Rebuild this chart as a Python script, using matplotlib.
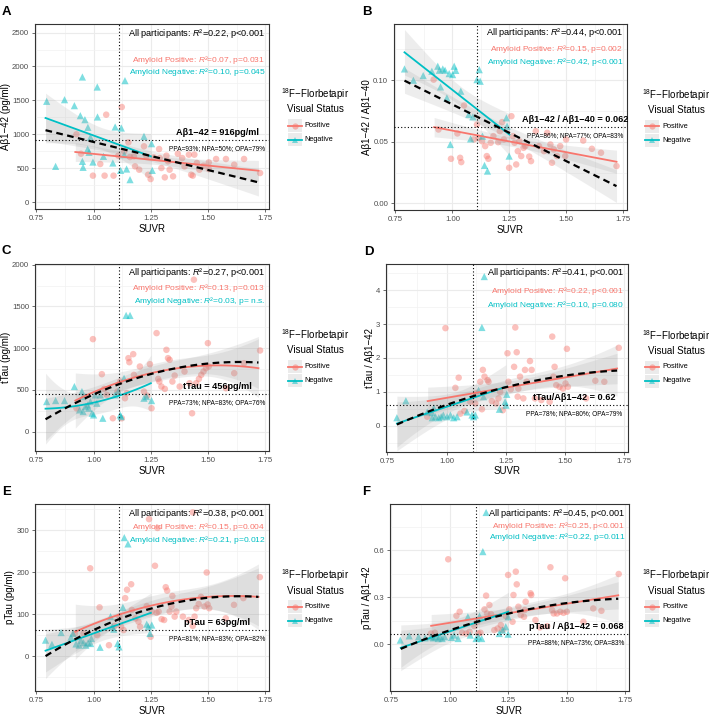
import numpy as np
import matplotlib
matplotlib.use("Agg")
import matplotlib.pyplot as plt
from matplotlib.patches import Rectangle
from matplotlib.lines import Line2D
import matplotlib.transforms as mtransforms

plt.rcParams['font.family'] = ['Liberation Sans', 'DejaVu Sans']
plt.rcParams['mathtext.fontset'] = 'custom'
plt.rcParams['mathtext.rm'] = 'Liberation Sans'
plt.rcParams['mathtext.it'] = 'Liberation Sans:italic'
plt.rcParams['mathtext.bf'] = 'Liberation Sans:bold'

RED = '#F8766D'
CYAN = '#00BFC4'

# ---------------- data (SUVR, value) ----------------
A_neg = [(0.795,1486),(0.834,526),(0.873,1510),(0.916,1422),(0.942,1274),(0.951,1845),(0.962,1215),(0.975,1102),
         (0.951,600),(0.954,512),(0.974,782),(0.980,733),(0.997,590),(0.986,955),(1.017,1255),(1.016,1697),
         (1.043,674),(1.084,576),(1.094,1107),(1.121,1092),(1.118,467),(1.137,1791),(1.134,699),(1.144,487),
         (1.159,330),(1.220,969),(1.253,861),(1.256,467)]
A_pos = [(0.925,999),(0.945,713),(0.997,389),(1.029,561),(1.055,1289),(1.048,389),(1.087,389),(1.123,1402),
         (1.108,684),(1.133,748),(1.152,881),(1.159,664),(1.176,674),(1.181,526),(1.199,477),(1.220,822),
         (1.231,674),(1.238,403),(1.249,339),(1.263,659),(1.286,782),(1.289,649),(1.296,502),(1.311,364),
         (1.318,684),(1.325,600),(1.332,477),(1.347,379),(1.368,713),(1.387,649),(1.397,526),(1.416,699),
         (1.426,403),(1.433,389),(1.440,699),(1.451,576),(1.462,477),(1.480,536),(1.503,585),(1.503,487),
         (1.535,635),(1.578,635),(1.614,551),(1.657,635),(1.727,428)]

B_neg = [(0.790,0.1092),(0.829,0.1000),(0.872,0.1038),(0.910,0.1073),(0.936,0.1114),(0.943,0.1081),(0.948,0.0946),
         (0.958,0.1092),(0.968,0.1081),(0.976,0.0857),(0.986,0.1054),(1.001,0.1046),(1.008,0.1114),(1.015,0.1080),
         (1.037,0.0911),(1.072,0.0722),(1.080,0.0524),(1.090,0.0703),(0.991,0.0478),(1.108,0.1005),(1.118,0.1086),
         (1.122,0.0992),(1.132,0.0546),(1.141,0.0308),(1.154,0.0262),(1.237,0.0695),(1.240,0.0627),(1.249,0.0384)]
B_pos = [(0.918,0.1005),(0.939,0.0600),(0.994,0.0362),(1.022,0.0568),(1.034,0.0370),(1.039,0.0335),(1.051,0.0795),
         (1.094,0.0519),(1.108,0.0640),(1.115,0.0532),(1.130,0.0505),(1.144,0.0465),(1.151,0.0384),(1.158,0.0362),
         (1.168,0.0492),(1.180,0.0546),(1.201,0.0497),(1.208,0.0586),(1.218,0.0660),(1.226,0.0519),(1.249,0.0289),
         (1.259,0.0708),(1.266,0.0546),(1.273,0.0492),(1.280,0.0316),(1.287,0.0424),(1.294,0.0505),(1.302,0.0384),
         (1.312,0.0451),(1.320,0.0465),(1.337,0.0380),(1.345,0.0343),(1.366,0.0586),(1.380,0.0465),(1.402,0.0424),
         (1.416,0.0573),(1.430,0.0478),(1.437,0.0330),(1.445,0.0438),(1.459,0.0384),(1.473,0.0465),(1.495,0.0384),
         (1.499,0.0519),(1.574,0.0510),(1.612,0.0443),(1.652,0.0411),(1.720,0.0303)]

C_neg = [(0.795,360),(0.834,372),(0.873,372),(0.916,540),(0.939,260),(0.949,480),(0.954,240),(0.964,300),
         (0.974,320),(0.978,280),(0.986,360),(0.993,220),(1.000,200),(1.014,340),(1.029,440),(1.040,160),
         (1.094,440),(1.108,488),(1.116,200),(1.120,180),(1.133,640),(1.142,1392),(1.159,1392),(1.220,400),
         (1.231,420),(1.253,372),(0.954,420),(1.007,440)]
C_pos = [(0.925,280),(0.997,1108),(1.036,688),(1.046,512),(1.058,440),(1.084,160),(1.104,480),(1.116,600),
         (1.123,160),(1.137,400),(1.145,460),(1.152,880),(1.156,832),(1.173,928),(1.176,680),(1.202,780),
         (1.220,480),(1.234,432),(1.246,808),(1.253,280),(1.275,1180),(1.282,632),(1.287,600),(1.296,540),
         (1.311,512),(1.318,980),(1.325,880),(1.332,860),(1.344,600),(1.354,672),(1.376,540),(1.397,720),
         (1.419,580),(1.438,1820),(1.430,220),(1.448,580),(1.460,632),(1.470,680),(1.480,720),(1.491,760),
         (1.499,1060),(1.503,780),(1.578,520),(1.614,700),(1.657,820),(1.727,972)]

D_neg = [(0.790,0.24),(0.828,0.74),(0.918,0.41),(0.939,0.24),(0.946,0.53),(0.953,0.27),(0.967,0.24),(0.977,0.27),
         (0.986,0.32),(1.002,0.27),(1.016,0.32),(1.030,0.24),(1.044,0.27),(1.086,0.41),(1.107,0.32),(1.114,0.27),
         (1.121,0.32),(1.135,1.05),(1.149,2.90),(1.159,4.40),(1.223,0.49),(1.247,0.71),(1.251,0.61),(1.254,0.93),
         (1.156,0.86),(0.939,0.39)]
D_pos = [(0.918,0.27),(0.995,2.88),(1.037,1.12),(1.051,1.42),(1.058,0.36),(1.075,0.44),(1.100,0.71),(1.121,0.66),
         (1.125,0.96),(1.142,1.30),(1.149,0.49),(1.153,1.65),(1.160,1.45),(1.173,1.35),(1.177,1.30),(1.191,0.73),
         (1.209,0.66),(1.219,0.81),(1.226,1.00),(1.237,0.46),(1.257,2.14),(1.261,1.30),(1.271,1.08),(1.285,1.74),
         (1.290,2.90),(1.296,2.17),(1.300,0.86),(1.303,1.10),(1.310,1.45),(1.324,0.81),(1.331,1.65),(1.338,1.30),
         (1.352,1.91),(1.359,1.65),(1.373,0.81),(1.400,0.76),(1.435,0.71),(1.446,2.63),(1.451,1.45),(1.456,1.74),
         (1.463,1.20),(1.477,1.15),(1.491,1.10),(1.502,1.25),(1.508,2.27),(1.512,1.15),(1.589,0.81),(1.628,1.33),
         (1.666,1.30),(1.727,2.30)]

E_neg = [(0.790,38),(0.818,28),(0.858,56),(0.901,45),(0.923,29),(0.937,26),(0.944,38),(0.956,32),(0.966,26),
         (0.976,32),(0.987,30),(0.990,42),(1.028,21),(1.074,94),(1.081,70),(1.088,64),(1.105,30),(1.111,22),
         (1.128,116),(1.134,282),(1.150,267),(1.232,76),(1.239,70),(1.246,54),(1.254,74),(0.910,54)]
E_pos = [(0.918,54),(0.956,54),(0.985,209),(1.016,50),(1.026,116),(1.067,26),(1.092,72),(1.113,94),(1.120,70),
         (1.131,62),(1.138,138),(1.146,158),(1.164,171),(1.167,110),(1.182,90),(1.196,82),(1.203,70),(1.232,119),
         (1.242,326),(1.249,46),(1.254,106),(1.268,215),(1.275,103),(1.279,305),(1.284,106),(1.297,88),(1.308,86),
         (1.315,164),(1.321,156),(1.332,106),(1.340,118),(1.344,143),(1.354,94),(1.361,106),(1.390,94),(1.416,86),
         (1.433,342),(1.433,72),(1.441,94),(1.448,114),(1.459,124),(1.469,141),(1.484,118),(1.494,199),(1.498,123),
         (1.505,114),(1.577,90),(1.613,122),(1.654,138),(1.726,188)]

F_neg = [(0.788,0.026),(0.826,0.053),(0.866,0.047),(0.894,0.040),(0.919,0.047),(0.929,0.040),(0.939,0.047),
         (0.950,0.036),(0.957,0.047),(0.967,0.036),(0.978,0.047),(1.007,0.043),(1.018,0.058),(1.035,0.036),
         (1.077,0.175),(1.087,0.058),(1.112,0.036),(1.122,0.047),(1.127,0.179),(1.136,0.036),(1.141,0.591),
         (1.155,0.841),(1.211,0.068),(1.225,0.090),(1.239,0.111),(1.249,0.175),(1.249,0.064)]
F_pos = [(0.919,0.068),(0.936,0.073),(0.993,0.542),(1.028,0.181),(1.042,0.207),(1.052,0.073),(1.070,0.068),
         (1.084,0.079),(1.105,0.115),(1.117,0.143),(1.122,0.068),(1.131,0.073),(1.148,0.222),(1.155,0.310),
         (1.159,0.196),(1.169,0.250),(1.176,0.192),(1.190,0.090),(1.204,0.100),(1.218,0.122),(1.225,0.090),
         (1.239,0.179),(1.249,0.442),(1.254,0.222),(1.268,0.143),(1.272,0.314),(1.282,0.463),(1.286,0.382),
         (1.293,0.239),(1.303,0.186),(1.317,0.175),(1.320,0.218),(1.324,0.271),(1.345,0.325),(1.348,0.314),
         (1.366,0.154),(1.385,0.107),(1.416,0.115),(1.430,0.491),(1.437,0.218),(1.444,0.196),(1.458,0.196),
         (1.472,0.207),(1.486,0.200),(1.493,0.421),(1.500,0.207),(1.571,0.143),(1.613,0.228),(1.648,0.213),
         (1.722,0.448)]

# fitted lines: (SUVR, value) points; 2 points = linear, 3 points = quadratic
A_fit_all = [(0.79, 1060), (1.72, 290)]
A_fit_pos = [(0.92, 738), (1.72, 462)]
A_fit_neg = [(0.79, 1240), (1.25, 674)]
B_fit_all = [(0.79, 0.0997), (1.72, 0.0140)]
B_fit_pos = [(0.92, 0.0619), (1.72, 0.0338)]
B_fit_neg = [(0.79, 0.1227), (1.25, 0.0559)]
C_fit_all = [(0.79, 148), (1.25, 690), (1.72, 828)]
C_fit_pos = [(0.92, 372), (1.25, 700), (1.72, 760)]
C_fit_neg = [(0.79, 275), (1.02, 360), (1.25, 580)]
D_fit_all = [(0.79, 0.04), (1.25, 1.14), (1.72, 1.63)]
D_fit_pos = [(0.92, 0.73), (1.72, 1.69)]
D_fit_neg = [(0.79, 0.07), (1.25, 1.15)]
E_fit_all = [(0.79, 0), (1.25, 113), (1.72, 141)]
E_fit_pos = [(0.92, 58), (1.25, 120), (1.72, 141)]
E_fit_neg = [(0.79, 13), (1.25, 103)]
F_fit_all = [(0.79, -0.03), (1.25, 0.195), (1.72, 0.29)]
F_fit_pos = [(0.92, 0.117), (1.72, 0.312)]
F_fit_neg = [(0.79, -0.023), (1.25, 0.207)]

SUVR_CUT = 1.11
CUTOFFS = [916, 0.062, 456, 0.62, 63, 0.068]
CUT_TEXT = ["Aβ1−42 = 916pg/ml", "Aβ1−42 / Aβ1−40 = 0.062", "tTau = 456pg/ml",
            "tTau/Aβ1−42 = 0.62", "pTau = 63pg/ml", "pTau / Aβ1−42 = 0.068"]
AGREE_TEXT = ["PPA=93%; NPA=50%; OPA=79%", "PPA=86%; NPA=77%; OPA=83%", "PPA=73%; NPA=83%; OPA=76%",
              "PPA=78%; NPA=80%; OPA=79%", "PPA=81%; NPA=83%; OPA=82%", "PPA=88%; NPA=73%; OPA=83%"]
R2_ALL = ["0.22", "0.44", "0.27", "0.41", "0.38", "0.45"]
P_ALL = ["p<0.001"] * 6
R2_POS = ["0.07", "0.15", "0.13", "0.22", "0.15", "0.25"]
P_POS = ["p=0.031", "p=0.002", "p=0.013", "p<0.001", "p=0.004", "p<0.001"]
R2_NEG = ["0.10", "0.42", "0.03", "0.10", "0.21", "0.22"]
P_NEG = ["p=0.045", "p<0.001", "p= n.s.", "p=0.080", "p=0.012", "p=0.011"]
YLABELS = ["Aβ1−42 (pg/ml)", "Aβ1−42 / Aβ1−40", "tTau (pg/ml)", "tTau / Aβ1−42", "pTau (pg/ml)", "pTau / Aβ1−42"]
YTICKS = [[0, 500, 1000, 1500, 2000, 2500], [0.0, 0.05, 0.10], [0, 500, 1000, 1500, 2000],
          [0, 1, 2, 3, 4], [0, 100, 200, 300], [0.0, 0.3, 0.6]]
YTICKLABELS = [["0", "500", "1000", "1500", "2000", "2500"], ["0.00", "0.05", "0.10"],
               ["0", "500", "1000", "1500", "2000"], ["0", "1", "2", "3", "4"],
               ["0", "100", "200", "300"], ["0.0", "0.3", "0.6"]]
XTICKS = [0.75, 1.00, 1.25, 1.50, 1.75]
XTICKLABELS = ["0.75", "1.00", "1.25", "1.50", "1.75"]

# ---------------- layout ----------------
W, H = 709, 715
fig = plt.figure(figsize=(W / 100, H / 100), dpi=100)

YLIMS = [(-103, 2627), (-0.0054, 0.1457), (-232, 2008), (-0.77, 4.77), (-83, 362), (-0.299, 0.895)]
AX_PX = [(35, 24, 269, 209), (394, 24, 627, 210), (35, 264, 269, 451),
         (386, 264, 628, 452), (35, 504, 269, 691), (390, 504, 629, 691)]
STAT_Y = [(0.951, 0.805, 0.742), (0.952, 0.866, 0.797), (0.953, 0.873, 0.804),
          (0.953, 0.856, 0.782), (0.950, 0.875, 0.810), (0.950, 0.883, 0.821)]
LETTERS = ["A", "B", "C", "D", "E", "F"]
LETTER_PX = [(2, 15), (362, 15), (2, 254), (364, 255), (2, 495), (362, 495)]

PANEL_DATA = [(A_pos, A_neg, A_fit_pos, A_fit_neg, A_fit_all),
              (B_pos, B_neg, B_fit_pos, B_fit_neg, B_fit_all),
              (C_pos, C_neg, C_fit_pos, C_fit_neg, C_fit_all),
              (D_pos, D_neg, D_fit_pos, D_fit_neg, D_fit_all),
              (E_pos, E_neg, E_fit_pos, E_fit_neg, E_fit_all),
              (F_pos, F_neg, F_fit_pos, F_fit_neg, F_fit_all)]


def fit_band(fit_pts, xd, yd, n_eval=100):
    fx, fy = np.asarray(fit_pts, float).T
    deg = len(fx) - 1
    coef = np.polyfit(fx, fy, deg)
    xs = np.linspace(fx[0], fx[-1], n_eval)
    ys = np.polyval(coef, xs)
    X = np.vander(xd, deg + 1)
    resid = yd - np.polyval(coef, xd)
    s = np.sqrt(np.sum(resid ** 2) / (len(xd) - deg - 1))
    XtXi = np.linalg.inv(X.T @ X)
    Xs = np.vander(xs, deg + 1)
    se = s * np.sqrt(np.einsum('ij,jk,ik->i', Xs, XtXi, Xs))
    return xs, ys, 1.99 * se


for i in range(6):
    l, t, r, b = AX_PX[i]
    ax = fig.add_axes([l / W, 1 - b / H, (r - l) / W, (b - t) / H])
    pos, neg, fpos, fneg, fall = PANEL_DATA[i]
    pos = np.asarray(pos, float)
    neg = np.asarray(neg, float)
    alld = np.vstack([pos, neg])

    ax.set_xlim(0.744, 1.766)
    ax.set_ylim(*YLIMS[i])
    ax.set_xticks(XTICKS)
    ax.set_xticklabels(XTICKLABELS)
    yt = YTICKS[i]
    ax.set_yticks(yt)
    ax.set_yticklabels(YTICKLABELS[i])
    step = yt[1] - yt[0]
    ymin_minor = [yt[0] - step / 2] + [v + step / 2 for v in yt]
    ax.set_yticks([v for v in ymin_minor if YLIMS[i][0] < v < YLIMS[i][1]], minor=True)
    ax.set_xticks([0.875, 1.125, 1.375, 1.625], minor=True)
    ax.grid(which='major', color='#EBEBEB', lw=0.8, zorder=0)
    ax.grid(which='minor', color='#F2F2F2', lw=0.5, zorder=0)
    ax.set_axisbelow(True)
    ax.tick_params(which='major', length=2.2, width=0.5, color='#333333', labelsize=5.6,
                   labelcolor='#4D4D4D', pad=2)
    ax.tick_params(which='minor', length=0)
    for sp in ax.spines.values():
        sp.set_color('#333333')
        sp.set_linewidth(0.8)

    ax.scatter(pos[:, 0], pos[:, 1], s=22, c=RED, alpha=0.45, edgecolors='none', marker='o', zorder=2)
    ax.scatter(neg[:, 0], neg[:, 1], s=27, c=CYAN, alpha=0.5, edgecolors='none', marker='^', zorder=2)

    curves = []
    for fpts, d, col in [(fpos, pos, RED), (fneg, neg, CYAN), (fall, alld, 'black')]:
        xs, ys, hw = fit_band(fpts, d[:, 0], d[:, 1])
        ax.fill_between(xs, ys - hw, ys + hw, color='#999999', alpha=0.17, lw=0, zorder=3)
        curves.append((xs, ys, col))
    for xs, ys, col in curves:
        if col == 'black':
            ax.plot(xs, ys, color='black', lw=1.6, dashes=(3, 2), zorder=5)
        else:
            ax.plot(xs, ys, color=col, lw=1.3, zorder=4)

    ax.axvline(SUVR_CUT, color='black', ls=(0, (1, 2)), lw=0.8, zorder=6)
    ax.axhline(CUTOFFS[i], color='black', ls=(0, (1, 2)), lw=0.8, zorder=6)

    bx = ax.get_xaxis_transform()
    sy = STAT_Y[i]
    ax.text(1.75, sy[0], "All participants: $R$²=" + R2_ALL[i] + ", " + P_ALL[i],
            transform=bx, ha='right', va='center', fontsize=6.6, color='black', zorder=7)
    ax.text(1.75, sy[1], "Amyloid Positive: $R$²=" + R2_POS[i] + ", " + P_POS[i],
            transform=bx, ha='right', va='center', fontsize=6.0, color=RED, zorder=7)
    ax.text(1.75, sy[2], "Amyloid Negative: $R$²=" + R2_NEG[i] + ", " + P_NEG[i],
            transform=bx, ha='right', va='center', fontsize=6.0, color=CYAN, zorder=7)

    up = mtransforms.offset_copy(ax.transData, fig=fig, x=0, y=7.5, units='dots')
    dn = mtransforms.offset_copy(ax.transData, fig=fig, x=0, y=-9, units='dots')
    ax.text(1.54, CUTOFFS[i], CUT_TEXT[i], transform=up, ha='center', va='center',
            fontsize=6.6, fontweight='bold', zorder=7)
    ax.text(1.54, CUTOFFS[i], AGREE_TEXT[i], transform=dn, ha='center', va='center',
            fontsize=4.7, zorder=7)

    ax.set_xlabel("SUVR", fontsize=7, labelpad=1.2)
    ax.set_ylabel(YLABELS[i], fontsize=7, labelpad=0.8)

    lx, ly = LETTER_PX[i]
    fig.text(lx / W, 1 - ly / H, LETTERS[i], fontsize=9.5, fontweight='bold', ha='left', va='baseline')

    # legend
    yc = (t + b) / 2
    if i % 2 == 0:
        tx, kx, labx = 315, 295, 304
    else:
        tx, kx, labx = 676, 652, 662
    fig.text(tx / W, 1 - (yc - 22) / H, r"$^{18}$F−Florbetapir", ha='center', va='center', fontsize=7)
    fig.text(tx / W, 1 - (yc - 7) / H, "Visual Status", ha='center', va='center', fontsize=7)
    for dy, col, mk, lab in [(9, RED, 'o', 'Positive'), (23, CYAN, '^', 'Negative')]:
        yy = yc + dy
        fig.add_artist(Rectangle(((kx - 7) / W, 1 - (yy + 6.5) / H), 14 / W, 13 / H,
                                 facecolor='#EBEBEB', edgecolor='none', transform=fig.transFigure))
        fig.add_artist(Line2D([(kx - 7) / W, (kx + 7) / W], [1 - yy / H] * 2, color=col, lw=1.3,
                              transform=fig.transFigure))
        fig.add_artist(Line2D([kx / W], [1 - yy / H], marker=mk, color=col, alpha=0.5, markersize=4.5,
                              lw=0, markeredgewidth=0, transform=fig.transFigure))
        fig.text(labx / W, 1 - yy / H, lab, ha='left', va='center', fontsize=5.3)

fig.savefig("out.png", dpi=100)
